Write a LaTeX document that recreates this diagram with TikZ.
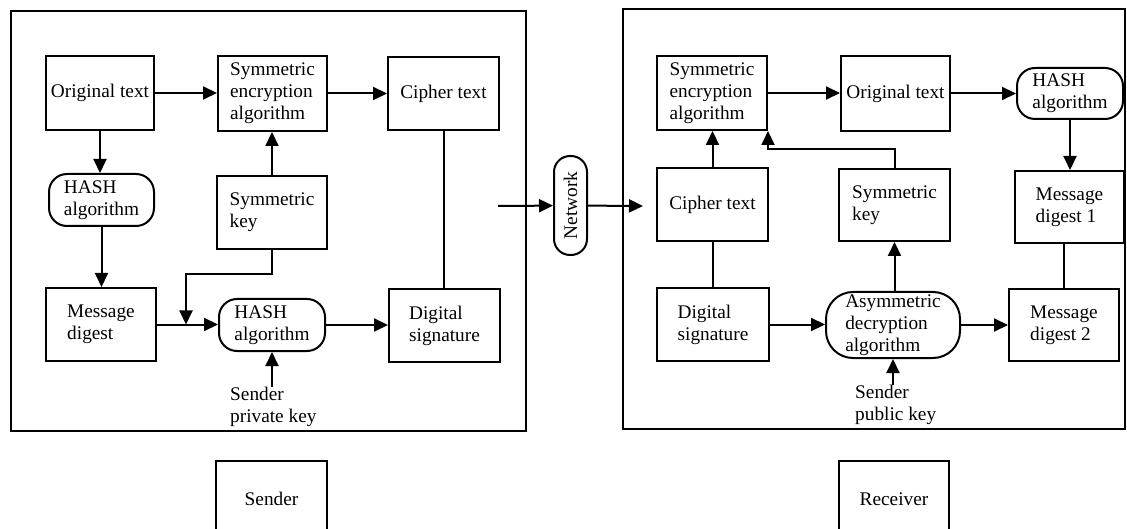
\documentclass[tikz,border=0pt]{standalone}
\usepackage{fontspec}
\setmainfont{Liberation Serif}
\usetikzlibrary{arrows.meta}
\tikzset{
  txt/.style={font=\fontsize{19.3}{22}\selectfont},
  bx/.style={draw, line width=2pt, inner sep=0pt, align=left, txt},
  rbx/.style={bx, rounded corners=18pt},
  arr/.style={line width=2pt, -{Triangle[length=14pt,width=13pt]}},
  ln/.style={line width=2pt},
  frame/.style={draw, line width=2pt},
  lbl/.style={inner sep=0pt, align=left, txt}
}
\begin{document}
\begin{tikzpicture}[x=1pt,y=-1pt]
\useasboundingbox (0,0) rectangle (1127,529);
\clip (0,0) rectangle (1127,529);
% frames
\draw[frame] (11,11) rectangle (526,431);
\draw[frame] (623,9) rectangle (1125,429);
% sender side
\node[bx, minimum width=108pt, minimum height=74pt] (ot1) at (100,93) {Original text};
\node[bx, minimum width=109pt, minimum height=75pt] (sea1) at (272.5,93.5) {Symmetric\\encryption\\algorithm};
\node[bx, minimum width=111pt, minimum height=73pt] (ct1) at (443.5,93.5) {Cipher text};
\node[rbx, minimum width=105pt, minimum height=52pt] (hash1) at (101.5,200) {HASH\\algorithm};
\node[bx, minimum width=110pt, minimum height=73pt] (sk1) at (272,212.5) {Symmetric\\key};
\node[bx, minimum width=110pt, minimum height=73pt] (md1) at (101,324.5) {Message\\digest};
\node[rbx, minimum width=106pt, minimum height=52pt] (hash2) at (272,325) {HASH\\algorithm};
\node[bx, minimum width=111pt, minimum height=73pt] (ds1) at (444.5,325.5) {Digital\\signature};
\node[lbl, anchor=north west] (spk) at (230,387) {Sender\\private key};
% network
\node[bx, rounded corners=16pt, rotate=90, minimum width=99pt, minimum height=33pt] (net) at (570.5,205.5) {Network};
% receiver side
\node[bx, minimum width=110pt, minimum height=74pt] (sea2) at (712,93) {Symmetric\\encryption\\algorithm};
\node[bx, minimum width=109pt, minimum height=75pt] (ot2) at (895.5,93.5) {Original text};
\node[rbx, minimum width=106pt, minimum height=51pt] (hash3) at (1070,93.5) {HASH\\algorithm};
\node[bx, minimum width=111pt, minimum height=73pt] (ct2) at (712.5,204.5) {Cipher text};
\node[bx, minimum width=111pt, minimum height=72pt] (sk2) at (894.5,205) {Symmetric\\key};
\node[bx, minimum width=109pt, minimum height=72pt] (mdg1) at (1069.5,207) {Message\\digest 1};
\node[bx, minimum width=112pt, minimum height=73pt] (ds2) at (713,324.5) {Digital\\signature};
\node[bx, rounded corners=27pt, minimum width=134pt, minimum height=66pt] (asym) at (893,325) {Asymmetric\\decryption\\algorithm};
\node[bx, minimum width=110pt, minimum height=72pt] (mdg2) at (1064,325) {Message\\digest 2};
\node[lbl, anchor=north west] (spub) at (855,385) {Sender\\public key};
% bottom boxes
\node[bx, minimum width=111pt, minimum height=76pt] (snd) at (271.5,499) {Sender};
\node[bx, minimum width=110pt, minimum height=76pt] (rcv) at (894,499) {Receiver};
% sender connectors
\draw[arr] (ot1.east) -- (ot1.east -| sea1.west);
\draw[arr] (sea1.east) -- (sea1.east -| ct1.west);
\draw[arr] (ot1.south) -- (ot1.south |- hash1.north);
\draw[arr] (hash1.south) -- (hash1.south |- md1.north);
\draw[arr] (sk1.north) -- (sk1.north |- sea1.south);
\draw[arr] (md1.east) -- (md1.east -| hash2.west);
\coordinate (j1) at (186,324.5);
\draw[arr] (sk1.south) -- ++(0,24) -| (j1);
\draw[arr] (hash2.east) -- (hash2.east -| ds1.west);
\draw[ln] (ct1.south) -- (ct1.south |- ds1.north);
\draw[arr] (spk.north -| hash2.south) -- (hash2.south);
% network connectors
\coordinate (s0) at (498,206);
\coordinate (r0) at (643,206);
\draw[arr] (s0) -- (net);
\draw[arr] (net) -- (r0);
% receiver connectors
\draw[arr] (sea2.east) -- (sea2.east -| ot2.west);
\draw[arr] (ot2.east) -- (ot2.east -| hash3.west);
\draw[arr] (hash3.south) -- (hash3.south |- mdg1.north);
\draw[arr] (ct2.north) -- (ct2.north |- sea2.south);
\draw[arr] (sk2.north) -- ++(0,-19) -| (sea2.south east);
\draw[ln] (ct2.south) -- (ct2.south |- ds2.north);
\draw[arr] (ds2.east) -- (ds2.east -| asym.west);
\draw[arr] (asym.east) -- (asym.east -| mdg2.west);
\draw[arr] (asym.north -| sk2.south) -- (sk2.south);
\draw[arr] (spub.north -| asym.south) -- (asym.south);
\draw[ln] (mdg2.north) -- (mdg2.north |- mdg1.south);
\end{tikzpicture}
\end{document}
